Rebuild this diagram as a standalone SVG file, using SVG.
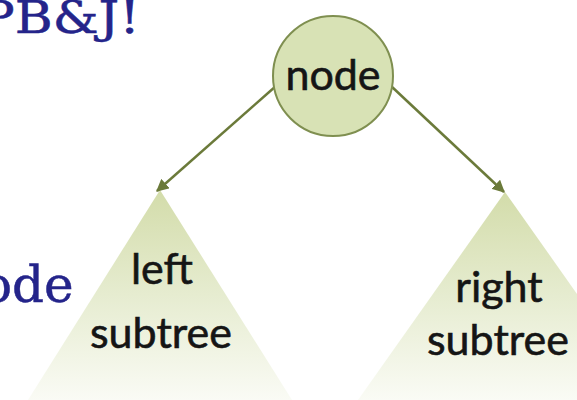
<svg xmlns="http://www.w3.org/2000/svg" width="577" height="400" viewBox="0 0 577 400">
<defs>
<linearGradient id="tg" x1="0" y1="0" x2="0" y2="1">
<stop offset="0" stop-color="#d3dcaa"/>
<stop offset="0.5" stop-color="#e6ecd0"/>
<stop offset="1" stop-color="#fafbf5"/>
</linearGradient>
<marker id="ah" viewBox="0 0 10 10" refX="9" refY="5" markerWidth="5" markerHeight="5" orient="auto" markerUnits="strokeWidth">
<path d="M0,0 L10,5 L0,10 z" fill="#6b7a3a"/>
</marker>
<style>
.lbl{font-family:Lato,"Open Sans",sans-serif;font-size:43px;fill:#151515;stroke:#151515;stroke-width:0.6;text-anchor:middle}
.blue{font-family:"DejaVu Serif","Liberation Serif",serif;fill:#24248a;stroke:#24248a;stroke-width:0.5}
.edge{stroke:#6b7a3a;stroke-width:2.5;fill:none;marker-end:url(#ah)}
</style>
</defs>
<rect width="577" height="400" fill="#ffffff"/>
<text class="blue" x="-20" y="33" font-size="44" textLength="160" lengthAdjust="spacingAndGlyphs">PB&amp;J!</text>
<text class="blue" x="-18" y="302" font-size="50">ode</text>
<g id="left-subtree">
<polygon points="160,190 28,400 292,400" fill="url(#tg)"/>
<text class="lbl" x="162" y="284">left</text>
<text class="lbl" x="161" y="348">subtree</text>
</g>
<g id="right-subtree">
<polygon points="505,192 358,400 652,400" fill="url(#tg)"/>
<text class="lbl" x="499" y="302">right</text>
<text class="lbl" x="498" y="355">subtree</text>
</g>
<g id="connectors">
<line class="edge" x1="276" y1="86" x2="157" y2="191"/>
<line class="edge" x1="391" y1="86" x2="504" y2="192"/>
</g>
<g id="node">
<circle cx="333" cy="76" r="60" fill="#d8e2b5" stroke="#7f8f50" stroke-width="2"/>
<text class="lbl" x="333" y="90">node</text>
</g>
</svg>
